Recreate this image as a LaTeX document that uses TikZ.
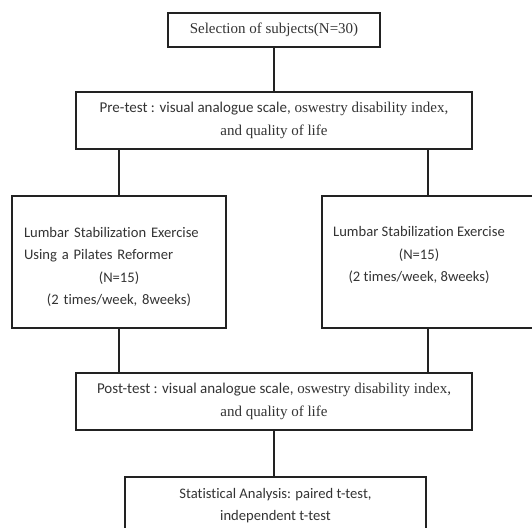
\documentclass[tikz,border=0pt]{standalone}
\usepackage{fontspec}
\setmainfont{Liberation Serif}
\newfontfamily\calibri[Ligatures=NoCommon]{Carlito}
\usetikzlibrary{positioning}
\definecolor{ink}{HTML}{333333}
\definecolor{edge}{HTML}{222222}
\newcommand{\flowSize}[0]{\fontsize{15}{22.5}\selectfont}
\newcommand{\sansSize}[0]{\fontsize{14.6}{22.5}\selectfont}

\begin{document}
\begin{tikzpicture}[x=1pt, y=-1pt, line width=1.6pt]
  \tikzset{box/.style={draw=edge, rectangle, align=center, text=ink, font=\flowSize, inner sep=0pt},
           sansbox/.style={box, font=\sansSize\calibri},
           link/.style={draw=edge}}
  \useasboundingbox (0,0) rectangle (532,527);
  \node[box, minimum width=212pt, minimum height=34pt] (sel) at (274,30) {Selection of subjects(N=30)};
  \node[box, minimum width=396pt, minimum height=57pt] (pre) at (274,120.5)
    {{\calibri Pre-test : visual analogue scale,} oswestry disability index,\\and quality of life};
  \node[sansbox, minimum width=214pt, minimum height=132pt] (left) at (119,262) {};
  \node[sansbox, draw=none, text width=190pt] (left-text) at ([yshift=-5pt]left.center)
    {\makebox[190pt][s]{Lumbar Stabilization Exercise}\\
     \makebox[190pt][l]{Using a Pilates Reformer}\\
     (N=15)\\
     (2 times/week, 8weeks)};
  \node[sansbox, minimum width=212pt, minimum height=132pt] (right) at (428,262) {};
  \node[sansbox, draw=none] (right-text) at ([xshift=-9pt, yshift=7pt]right.center)
    {Lumbar Stabilization Exercise\\(N=15)\\(2 times/week, 8weeks)};
  \node[box, minimum width=396pt, minimum height=57pt] (post) at (274,401.5)
    {{\calibri Post-test : visual analogue scale,} oswestry disability index,\\and quality of life};
  \node[sansbox, minimum width=301pt, minimum height=57pt] (stat) at (275.5,505.5)
    {Statistical Analysis: paired t-test,\\independent t-test};
  \draw[link] (sel) -- (pre);
  \draw[link] (pre.south -| left.north) -- (left.north);
  \draw[link] (pre.south -| right.north) -- (right.north);
  \draw[link] (left.south) -- (left.south |- post.north);
  \draw[link] (right.south) -- (right.south |- post.north);
  \draw[link] (post.south) -- (post.south |- stat.north);
\end{tikzpicture}
\end{document}
